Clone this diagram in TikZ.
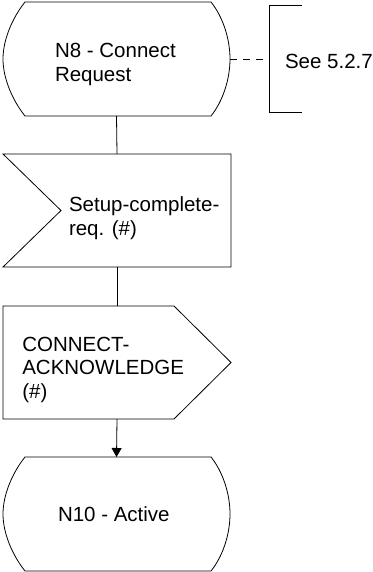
\documentclass[tikz,border=0pt]{standalone}
\usepackage{fontspec}
\setmainfont{Liberation Sans}
\usetikzlibrary{arrows.meta}
\tikzset{
  outline/.style={draw=black, line width=0.8pt, line join=miter},
  conn/.style={draw=black, line width=0.8pt},
  frame/.style={inner sep=0pt, outer sep=0pt, draw=none},
  txt/.style={inner sep=0pt, outer sep=0pt, align=left, anchor=base west,
    font=\fontsize{20.5}{23.5}\selectfont},
}
\begin{document}
\begin{tikzpicture}[x=1pt,y=-1pt]
\useasboundingbox (0,0) rectangle (372,572);
% frames for naming
\node[frame, minimum width=227pt, minimum height=114pt] (n8) at (116.5,59) {};
\node[frame, minimum width=33pt, minimum height=107pt] (br) at (285.5,59) {};
\node[frame, minimum width=228pt, minimum height=113pt] (in1) at (117,210.5) {};
\node[frame, minimum width=228pt, minimum height=113pt] (out1) at (117,362.5) {};
\node[frame, minimum width=227pt, minimum height=114pt] (n10) at (116.5,514) {};
% state N8
\draw[outline] (25,2) -- (211,2) .. controls (223,17) and (230,39) .. (230,59)
  .. controls (230,79) and (223,101) .. (211,116) -- (25,116)
  .. controls (13,101) and (3,79) .. (3,59)
  .. controls (3,39) and (13,17) .. (25,2) -- cycle;
% bracket
\draw[outline] (302,5.5) -- (269,5.5) -- (269,112.5) -- (302,112.5);
% input signal
\draw[outline] (3,154) -- (231,154) -- (231,267) -- (3,267) -- (61,210.5) -- cycle;
% output signal
\draw[outline] (3,306) -- (174,306) -- (231,362.5) -- (174,419) -- (3,419) -- cycle;
% state N10
\draw[outline] (25,457) -- (211,457) .. controls (223,472) and (230,494) .. (230,514)
  .. controls (230,534) and (223,556) .. (211,571) -- (25,571)
  .. controls (13,556) and (3,534) .. (3,514)
  .. controls (3,494) and (13,472) .. (25,457) -- cycle;
% texts (base anchor = last line)
\node[txt] (t8) at (55,81.5) {N8 - Connect\\Request};
\node[txt] (tsee) at (285,68.3) {See 5.2.7};
\node[txt] (tin) at (69,235) {Setup-complete-\\req. (\#)};
\node[txt] (tout) at (22.3,398) {CONNECT-\\ACKNOWLEDGE\\(\#)};
\node[txt] (t10) at (58,521.7) {N10 - Active};
% connectors
\draw[conn, dash pattern=on 7pt off 6pt] (n8.east) -- (br.west);
\draw[conn] (n8.south) -- (in1.north);
\draw[conn] (in1.south) -- (out1.north);
\draw[conn, -{Triangle[width=10pt,length=9pt]}] (out1.south) -- (n10.north);
\end{tikzpicture}
\end{document}
